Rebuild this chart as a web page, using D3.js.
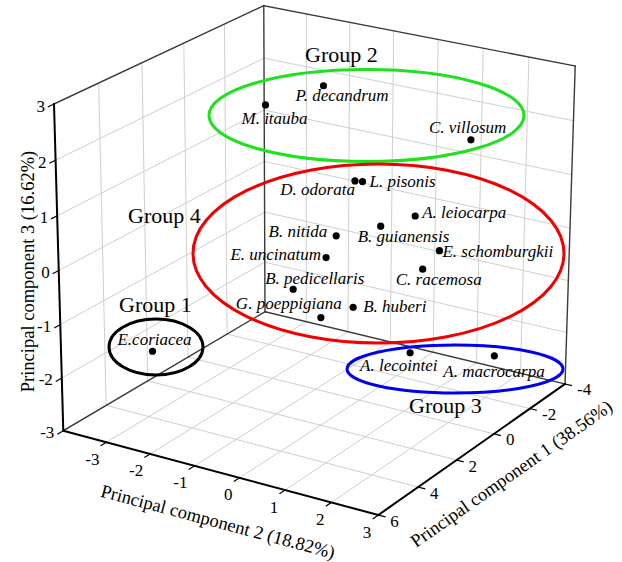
<!DOCTYPE html>
<html>
<head>
<meta charset="utf-8">
<script src="https://cdn.jsdelivr.net/npm/d3@7"></script>
<style>
body { margin: 0; background: #fff; }
text { font-family: "Liberation Serif", "Times New Roman", serif; fill: #000; }
</style>
</head>
<body>
<script>
// species scores on the first three principal components
let species = ["P. decandrum", "M. itauba", "C. villosum", "D. odorata", "L. pisonis", "A. leiocarpa",
  "B. guianensis", "B. nitida", "E. schomburgkii", "E. uncinatum", "C. racemosa", "B. pedicellaris",
  "G. poeppigiana", "B. huberi", "A. lecointei", "A. macrocarpa", "E.coriacea"];
let pc1 = [-1, 0, -3, 1, 0.5, 0, 1, 2, -1, 2.5, 0, 3, 3, 2, 2, 0, 4];
let pc2 = [-1.28, -2.14, 1.17, 0.30, 0.25, 1.20, 0.87, 0.33, 1.33, 0.33, 1.38, -0.17, 0.44, 0.71, 1.96, 2.97, -2.89];
let pc3 = [2.48, 2.17, 1.52, 1.40, 1.28, 0.72, 0.68, 0.61, -0.11, 0.32, -0.23, -0.25, -0.65, -0.63, -1.22, -1.53, -1.73];

let pc1Ticks = [6, 4, 2, 0, -2, -4];
let pc2Ticks = [-3, -2, -1, 0, 1, 2, 3];
let pc3Ticks = [-3, -2, -1, 0, 1, 2, 3];

let groupNames = ["Group 1", "Group 2", "Group 3", "Group 4"];
let groupColors = ["#000000", "#1ee21e", "#0000f0", "#f00000"];

// label placement next to each dot: [anchor, dx, dy]
let labelPos = [["start", -28, 15], ["start", -24, 19], ["start", -42, -7], ["end", 0, 14], ["start", 7, 5],
  ["start", 7, 2], ["start", -23, 16], ["end", -9, 1], ["start", 3, 6], ["end", -5, 2], ["start", -27, 16],
  ["start", -28, -5], ["start", -85, -9], ["start", 10, 5], ["start", -50, 18], ["start", -51, 21], ["start", -35, -6]];
// hand drawn group outlines: cx, cy, rx, ry, label x, label y
let groupShapes = [[156, 347, 47, 28, 119, 312], [366.5, 115.5, 157.5, 46, 305, 62],
  [455, 369, 108, 24, 409, 413], [378.5, 253.5, 185.5, 89.5, 128, 223]];

let svg = d3.select("body").append("svg").attr("width", 622).attr("height", 562);

let uS = d3.scaleLinear().domain([-4, 3]).range([0, 1]);
let vS = d3.scaleLinear().domain([6, -4]).range([0, 1]);
let wS = d3.scaleLinear().domain([-3, 3]).range([0, 1]);

// camera: screen spot of the cube origin, far end of each edge and its perspective weight
let origin = [63.3, 430.7];
let ends = {u: [378.3, 515], v: [265, 311.7], w: [54, 104]};
let depth = {u: -0.0477, v: 0.0796, w: -0.038};
let A = {};
for (let k in ends) {
    A[k] = [ends[k][0] * (1 + depth[k]) - origin[0], ends[k][1] * (1 + depth[k]) - origin[1], depth[k]];
}
function proj(u, v, w) {
    let X = origin[0] + u * A.u[0] + v * A.v[0] + w * A.w[0];
    let Y = origin[1] + u * A.u[1] + v * A.v[1] + w * A.w[1];
    let S = 1 + u * A.u[2] + v * A.v[2] + w * A.w[2];
    return [X / S, Y / S];
}
function P(a, b, c) { return proj(uS(b), vS(a), wS(c)); }

function seg(g, a, b, color, width) {
    let p = proj(a[0], a[1], a[2]), q = proj(b[0], b[1], b[2]);
    g.append("line").attr("x1", p[0]).attr("y1", p[1]).attr("x2", q[0]).attr("y2", q[1])
        .attr("stroke", color).attr("stroke-width", width).attr("stroke-linecap", "square");
}

let grid = svg.append("g");
let inner1 = pc1Ticks.filter(t => t !== 6 && t !== -4);
let inner2 = pc2Ticks.filter(t => t !== 3);
let inner3 = pc3Ticks.filter(t => t !== 3 && t !== -3);
inner1.forEach(t => {
    seg(grid, [0, vS(t), 0], [0, vS(t), 1], "#cfcfcf", 1);
    seg(grid, [0, vS(t), 0], [1, vS(t), 0], "#cfcfcf", 1);
});
inner2.forEach(t => {
    seg(grid, [uS(t), 1, 0], [uS(t), 1, 1], "#cfcfcf", 1);
    seg(grid, [uS(t), 0, 0], [uS(t), 1, 0], "#cfcfcf", 1);
});
inner3.forEach(t => {
    seg(grid, [0, 0, wS(t)], [0, 1, wS(t)], "#cfcfcf", 1);
    seg(grid, [0, 1, wS(t)], [1, 1, wS(t)], "#cfcfcf", 1);
});

let box = svg.append("g");
[[[0, 1, 0], [0, 1, 1]], [[1, 1, 0], [1, 1, 1]], [[0, 0, 1], [0, 1, 1]], [[0, 1, 1], [1, 1, 1]],
 [[0, 0, 0], [0, 1, 0]], [[0, 1, 0], [1, 1, 0]]].forEach(e => seg(box, e[0], e[1], "#3a3a3a", 1.4));
[[[0, 0, 0], [0, 0, 1]], [[0, 0, 0], [1, 0, 0]], [[1, 0, 0], [1, 1, 0]]].forEach(e => seg(box, e[0], e[1], "#000", 2));

// tick marks
pc3Ticks.forEach(t => seg(box, [0, 0, wS(t)], [0, -0.025, wS(t)], "#000", 1.2));
pc2Ticks.forEach(t => seg(box, [uS(t), 0, 0], [uS(t), -0.025, 0], "#000", 1.2));
pc1Ticks.forEach(t => seg(box, [1, vS(t), 0], [1.02, vS(t), 0], "#000", 1.2));

let ticks = svg.append("g").attr("font-size", 17);
pc3Ticks.forEach(t => {
    let p = P(6, -4, t);
    ticks.append("text").attr("x", p[0] - 9).attr("y", p[1] + 2).attr("text-anchor", "end")
        .attr("dominant-baseline", "central").text(t);
});
pc2Ticks.forEach(t => {
    let p = P(6, t, -3);
    ticks.append("text").attr("x", p[0] - 7).attr("y", p[1] + 17).attr("text-anchor", "end")
        .attr("dominant-baseline", "central").text(t);
});
pc1Ticks.forEach(t => {
    let p = P(t, 3, -3);
    ticks.append("text").attr("x", p[0] + 12).attr("y", p[1] + 6).attr("text-anchor", "start")
        .attr("dominant-baseline", "central").text(t);
});

// axis titles
let titles = svg.append("g").attr("font-size", 18.5).attr("text-anchor", "middle").attr("dominant-baseline", "central");
let t3 = P(6, -4, 0);
titles.append("text").attr("transform", `translate(${t3[0] - 31},${t3[1] + 1}) rotate(-90)`)
    .text("Principal component 3 (16.62%)");
let a2 = P(6, -4, -3), b2 = P(6, 3, -3), m2 = P(6, -0.5, -3);
let ang2 = Math.atan2(b2[1] - a2[1], b2[0] - a2[0]) * 180 / Math.PI;
titles.append("text").attr("transform", `translate(${m2[0] + 1},${m2[1] + 50}) rotate(${ang2})`)
    .text("Principal component 2 (18.82%)");
let a1 = P(6, 3, -3), b1 = P(-4, 3, -3), m1 = P(1, 3, -3);
let ang1 = Math.atan2(b1[1] - a1[1], b1[0] - a1[0]) * 180 / Math.PI;
titles.append("text").attr("transform", `translate(${m1[0] + 36},${m1[1] + 27}) rotate(${ang1})`)
    .text("Principal component 1 (38.56%)");

// group outlines
let groups = svg.append("g");
groupShapes.forEach((s, i) => {
    groups.append("ellipse").attr("cx", s[0]).attr("cy", s[1]).attr("rx", s[2]).attr("ry", s[3])
        .attr("fill", "none").attr("stroke", groupColors[i]).attr("stroke-width", 3);
    groups.append("text").attr("x", s[4]).attr("y", s[5]).attr("font-size", 22).text(groupNames[i]);
});

// points
let pts = species.map((d, i) => ({name: d, xy: P(pc1[i], pc2[i], pc3[i]), lab: labelPos[i]}));
let marks = svg.append("g");
marks.selectAll("circle").data(pts).enter().append("circle")
    .attr("cx", d => d.xy[0]).attr("cy", d => d.xy[1]).attr("r", 3.6).attr("fill", "#000");
marks.selectAll("text").data(pts).enter().append("text")
    .attr("x", d => d.xy[0] + d.lab[1]).attr("y", d => d.xy[1] + d.lab[2])
    .attr("text-anchor", d => d.lab[0]).attr("font-size", 17).attr("font-style", "italic")
    .text(d => d.name);
</script>
</body>
</html>
